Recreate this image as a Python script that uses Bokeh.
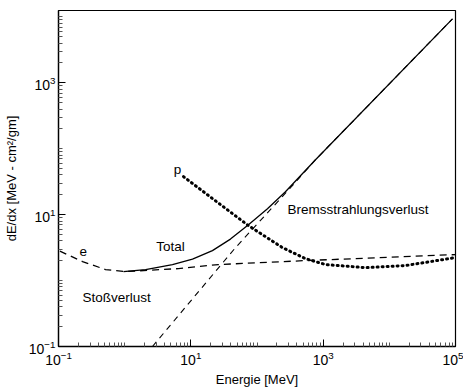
from bokeh.plotting import figure
from bokeh.models import FixedTicker
from bokeh.core.properties import value
from bokeh.embed import file_html
from bokeh.resources import INLINE

# Total energy loss (solid)
total_E = [0.96, 2.07, 5.28, 10.6, 21.2, 39.7, 74.3, 144, 269, 766, 90000]
total_dEdx = [1.37, 1.47, 1.75, 2.12, 2.85, 4.26, 7.05, 12.3, 22.3, 68.1, 9330]

# Collision loss (dashed, electron)
coll_E = [0.105, 0.231, 0.513, 1.03, 6.51, 26.2, 541, 100000]
coll_dEdx = [2.8, 1.94, 1.47, 1.37, 1.52, 1.75, 2.01, 2.48]

# Bremsstrahlung loss (dashed)
brems_E = [2.63, 47.3, 321, 766, 90000]
brems_dEdx = [0.1, 3.16, 25.6, 68.1, 9330]

# Proton (dotted)
p_E = [7.74, 74.3, 243, 541, 1084, 4365, 17500, 100000]
p_dEdx = [37.7, 6.81, 3.16, 2.15, 1.75, 1.57, 1.69, 2.23]

x_major = [0.1, 10, 1000, 100000]
y_major = [0.1, 10, 1000]

labels_text = ["e", "Total", "Stoßverlust", "p", "Bremsstrahlungsverlust"]
labels_x = [0.237, 4.93, 0.231, 6.28, 289]
labels_y = [2.75, 3.27, 0.552, 48, 11.9]
labels_align = ["center", "center", "left", "center", "left"]

FONT = "Liberation Sans"


def minor_list(lo, hi, majors):
    out = []
    for d in range(lo, hi + 1):
        for m in range(1, 10):
            v = m * 10.0 ** d
            if v <= 10.0 ** hi * 1.0001 and all(abs(v - M) / M > 1e-6 for M in majors):
                out.append(v)
    return out


x_minor = minor_list(-1, 5, x_major)
y_minor = minor_list(-1, 4, y_major)

p = figure(
    x_axis_type="log", y_axis_type="log",
    x_range=(0.1, 100000), y_range=(0.1, 12500),
    frame_width=397, frame_height=336,
    min_border_left=52, min_border_top=10, min_border_right=8, min_border_bottom=40,
    output_backend="svg", toolbar_location=None,
)
p.xgrid.visible = False
p.ygrid.visible = False
p.outline_line_color = "black"
p.outline_line_width = 1.2
p.background_fill_color = "white"
p.border_fill_color = "white"

for ax, majors, minors in ((p.xaxis[0], x_major, x_minor), (p.yaxis[0], y_major, y_minor)):
    ax.ticker = FixedTicker(ticks=majors, minor_ticks=minors)
    ax.major_tick_in = 7
    ax.major_tick_out = 0
    ax.minor_tick_in = 4
    ax.minor_tick_out = 0
    ax.axis_line_color = "black"
    ax.axis_line_width = 1.3
    ax.major_tick_line_color = "black"
    ax.minor_tick_line_color = "#555555"
    ax.major_label_text_font = FONT
    ax.major_label_text_font_size = "14px"
    ax.major_label_text_color = "black"
    ax.axis_label_text_font = FONT
    ax.axis_label_text_font_size = "13px"
    ax.axis_label_text_font_style = "normal"
    ax.axis_label_text_color = "black"

p.xaxis.axis_label = "Energie [MeV]"
p.yaxis.axis_label = "dE/dx [MeV - cm²/gm]"
p.xaxis.major_label_standoff = 4
p.xaxis.axis_label_standoff = 4
p.yaxis.major_label_standoff = 3
p.yaxis.axis_label_standoff = 7

p.line(total_E, total_dEdx, line_color="black", line_width=1.3)
p.line(coll_E, coll_dEdx, line_color="black", line_width=1.3, line_dash="7 5")
p.line(brems_E, brems_dEdx, line_color="black", line_width=1.1, line_dash="6 5")
p.line(p_E, p_dEdx, line_color="black", line_width=3, line_dash="1 4", line_cap="round")

for t, x, y, a in zip(labels_text, labels_x, labels_y, labels_align):
    p.text(x=[x], y=[y], text=[t], text_font=value(FONT), text_font_size="13.5px",
           text_align=a, text_baseline="middle", text_color="black")

open("out.html", "w").write(file_html(p, INLINE))
